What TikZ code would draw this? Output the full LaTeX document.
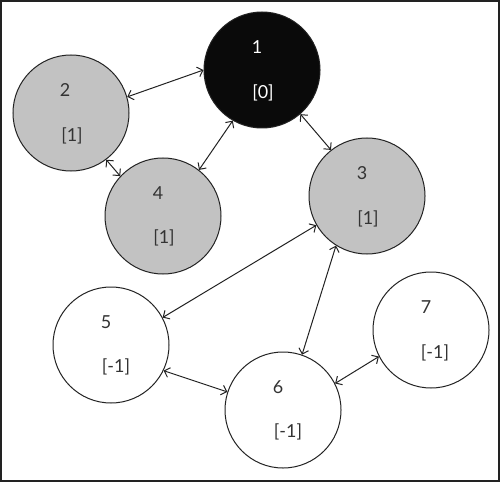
\documentclass[tikz,border=0pt]{standalone}
\usepackage{fontspec}
\setmainfont{Lato}
\usetikzlibrary{arrows.meta}
\definecolor{edgecol}{HTML}{222222}
\definecolor{txtcol}{HTML}{333333}
\definecolor{graycol}{HTML}{C2C2C2}
\definecolor{blackcol}{HTML}{0A0A0A}
\tikzset{
  vert/.style={circle, draw=edgecol, line width=1bp, minimum size=116bp, inner sep=0pt},
  grayv/.style={vert, fill=graycol},
  whitev/.style={vert, fill=white},
  blackv/.style={vert, fill=blackcol},
  lbl/.style={font=\fontsize{18}{21}\selectfont, text=txtcol, inner sep=0pt},
  wlbl/.style={lbl, text=white},
  conn/.style={draw=edgecol, line width=1bp, {Straight Barb[length=5bp,width=10bp]}-{Straight Barb[length=5bp,width=10bp]}}
}
\begin{document}
\begin{tikzpicture}[x=1bp,y=-1bp]
\useasboundingbox (0,0) rectangle (500,482);
\draw[draw=edgecol, line width=1.5bp] (1,1) rectangle (499,481);
\node[blackv] (n1) at (262,70) {};
\node[grayv]  (n2) at (71,113) {};
\node[grayv]  (n4) at (163,216) {};
\node[grayv]  (n3) at (367,196) {};
\node[whitev] (n5) at (111,345) {};
\node[whitev] (n6) at (283,410) {};
\node[whitev] (n7) at (431,330) {};
% labels
\node[wlbl] (t1) at (257,47) {1};
\node[wlbl] (b1) at (263,93) {[0]};
\node[lbl] (t2) at (65,90) {2};
\node[lbl] (b2) at (72,136) {[1]};
\node[lbl] (t4) at (158,193) {4};
\node[lbl] (b4) at (164,238) {[1]};
\node[lbl] (t3) at (362,173) {3};
\node[lbl] (b3) at (368,219) {[1]};
\node[lbl] (t5) at (106,322) {5};
\node[lbl] (b5) at (116,367) {[-1]};
\node[lbl] (t6) at (278,387) {6};
\node[lbl] (b6) at (288,432) {[-1]};
\node[lbl] (t7) at (426,307) {7};
\node[lbl] (b7) at (435,353) {[-1]};
% connectors
\draw[conn] (n2.16.6) -- (n1.180);
\draw[conn] (n1.-120.8) -- (n4.52.4);
\draw[conn] (n1.-49) -- (n3.128.8);
\draw[conn] (n2.-53.3) -- (n4.137);
\draw[conn] (n3.210.8) -- (n5.28.2);
\draw[conn] (n3.238.4) -- (n6.71.6);
\draw[conn] (n5.-26.6) -- (n6.162.2);
\draw[conn] (n6.27.4) -- (n7.207.8);
\end{tikzpicture}
\end{document}
